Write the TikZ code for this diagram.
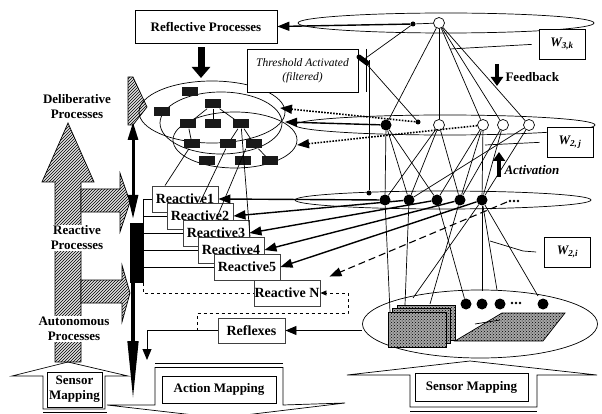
\documentclass[tikz,border=0pt]{standalone}
\usepackage{fontspec}
\setmainfont{Liberation Serif}
\usetikzlibrary{arrows.meta,patterns,shapes.geometric}

\tikzset{
  link/.style={line width=0.7pt},
  lab/.style={font=\fontsize{13}{15}\selectfont\bfseries, align=center},
  boxx/.style={draw, fill=white, line width=0.7pt, lab},
  reac/.style={boxx, draw=black!75, line width=0.9pt, minimum width=66pt, minimum height=26pt, inner sep=0.5pt,
    font=\fontsize{14}{15}\selectfont\bfseries},
  wbox/.style={draw, fill=white, line width=0.7pt, minimum width=46pt, minimum height=30pt,
    font=\fontsize{13}{14}\selectfont\bfseries\itshape},
  bnode/.style={circle, fill=black, minimum size=11pt, inner sep=0pt},
  wnode/.style={circle, draw, fill=white, minimum size=11pt, inner sep=0pt, line width=0.7pt},
  sdot/.style={circle, fill=black, minimum size=5pt, inner sep=0pt},
  tnode/.style={fill=black!90, minimum width=16pt, minimum height=9pt, inner sep=0pt},
  hatch/.style={draw, line width=0.7pt, preaction={fill=black!12}, pattern=north east lines},
  speckle/.style={draw, line width=0.7pt, preaction={fill=black!35}, pattern=crosshatch dots},
  thickarr/.style={line width=1.4pt, -{Triangle[length=12pt,width=9pt]}},
  thinarr/.style={line width=0.9pt, -{Triangle[length=11pt,width=9pt]}},
  dotarr/.style={line width=1.6pt, dash pattern=on 1.6pt off 1.4pt, -{Triangle[length=12pt,width=9pt]}},
  blockarr/.style={line width=4pt, -{Triangle[length=9pt,width=12pt]}},
}

\begin{document}
\begin{tikzpicture}[x=1pt,y=-1pt]
\useasboundingbox (0,0) rectangle (602,414);

% process levels on the left
\draw[hatch] (42,182) -- (68,123) -- (94,182) -- (81,182) -- (81,362) -- (55,362) -- (55,182) -- cycle;
\draw[hatch] (81,189) -- (120,189) -- (120,173) -- (130,202) -- (120,232) -- (120,212) -- (81,212) -- cycle;
\draw[hatch] (81,280) -- (122,280) -- (122,265) -- (130,293) -- (122,322) -- (122,303) -- (81,303) -- cycle;
\draw[hatch] (128,77) -- (133,77) -- (147,107) -- (133,125) -- (128,125) -- cycle;
\node[lab, fill=white, inner sep=1pt] (delib) at (77,107) {Deliberative\\Processes};
\node[lab, fill=white, inner sep=1pt] (reactlab) at (77,238) {Reactive\\Processes};
\node[lab, fill=white, inner sep=1pt] (autolab) at (74,329) {Autonomous\\Processes};

% mapping blocks at the bottom
\draw[link] (12,376) -- (68,362) -- (128,376) -- (105,376) -- (105,409) -- (43,409) -- (43,376) -- cycle;
\draw[link] (43,412.5) -- (107,412.5);
\node[boxx, minimum width=55pt, minimum height=35pt, inner sep=0pt] (smleft) at (74.5,389.5) {Sensor\\Mapping};
\draw[link] (155,367) -- (155,405) -- (107,405) -- (220,418) -- (345,403) -- (283,405) -- (283,367);
\draw[line width=1.2pt] (155,363.5) -- (283,363.5);
\draw[line width=1.2pt] (155,367.5) -- (283,367.5);
\node[boxx, minimum width=114pt, minimum height=27pt] (am) at (219,389.5) {Action Mapping};
\draw[link] (410,407) -- (410,375) -- (347,375) -- (470,361) -- (597,375) -- (537,375) -- (537,407) -- cycle;
\draw[link] (410,411) -- (537,411);
\node[boxx, minimum width=113pt, minimum height=28pt] (smright) at (471.5,387) {Sensor Mapping};

% deliberative plans
\draw[link] (212,112) ellipse [x radius=73, y radius=31];
\draw[link] (235,140) ellipse [x radius=62, y radius=28];
\draw[link] (221,123) ellipse [x radius=61, y radius=31];
\foreach \n/\x/\y in {ta/190/92, tb/162/112, root/213/104, t21/188/124, t22/213/124, t23/241/124,
                      t31/192/144, t32/228/144, t33/254/144, t41/207/161, t42/243/161, t43/270/161}
  \node[tnode] (\n) at (\x,\y) {};
\foreach \a/\b in {root/t21, root/t22, root/t23, t21/t31, t23/t32, t23/t33, t33/t43}
  \draw[link] (\a) -- (\b);

% network layers
\draw[link] (446,23) ellipse [x radius=148, y radius=10];
\draw[link] (445,125) ellipse [x radius=150, y radius=10];
\draw[link] (443,200) ellipse [x radius=148, y radius=9];
\node[ellipse, draw, line width=0.7pt, minimum width=235pt, minimum height=68pt] (sens) at (480,324) {};

% sensor contents
\foreach \d/\e in {9/7, 4.5/3.5, 0/0}
  \draw[speckle] (388+\d,312-\e) rectangle ++(58,35);
\draw[speckle] (455,341) -- (502,313) -- (565,313) -- (543,341) -- cycle;
\draw[link] (475,324) -- (500,320);
\foreach \n/\x in {sa/466, sb/482, sc/500, se/543}
  \node[bnode] (\n) at (\x,304) {};
\foreach \x in {512,516,520}
  \fill (\x,303) circle (1.4);

% units
\node[wnode] (tk) at (439,23) {};
\node[sdot] (dk) at (413,24) {};
\node[bnode] (b0) at (386,125) {};
\node[sdot] (s0) at (418,122) {};
\foreach \n/\x in {w1/439, w2/483, w3/503, w4/529}
  \node[wnode] (\n) at (\x,125) {};
\node[sdot] (sr) at (369,193) {};
\foreach \n/\x in {r1/385, r2/409, r3/437, r4/460, r5/482}
  \node[bnode] (\n) at (\x,200) {};
\foreach \x in {510,514,518}
  \fill (\x,201) circle (1.4);
\coordinate (rdots) at (507,202);

% boxes
\node[boxx, minimum width=142pt, minimum height=33pt] (rp) at (206,26.5) {Reflective Processes};
\node[draw, fill=white, line width=0.7pt, minimum width=111pt, minimum height=43pt, align=center,
  font=\fontsize{11.5}{14}\selectfont\itshape] (thr) at (302.5,70.5) {Threshold Activated\\(filtered)};
\node[wbox] (wk) at (562,44) {W\textsubscript{3,k}};
\node[wbox] (wj) at (570,142) {W\textsubscript{2,\,j}};
\node[wbox] (wi) at (567.5,252) {W\textsubscript{2,i}};
\foreach \i/\x/\y in {1/185/199, 2/200/216, 3/216/233, 4/231/250, 5/247/267}
  \node[reac] (re\i) at (\x,\y) {Reactive\i};
\node[reac] (rn) at (287,293) {Reactive N};
\node[reac, minimum width=67pt, minimum height=25pt] (rfx) at (251.5,330.5) {Reflexes};

% bus on the left of the reactive stack
\node[fill=black, minimum width=14pt, minimum height=60pt, inner sep=0pt] (bar) at (137,253) {};
\coordinate (rail) at (143,199);
\draw[link] (rail) -- (rail |- bar.north);
\foreach \i in {1,...,5}
  \draw[link] (rail |- re\i.west) -- (re\i.west);
\coordinate (barse) at (143,283);
\draw[link, dashed] (barse) |- (rn.west);
\coordinate (da1) at (133,122);
\coordinate (da2) at (133,219);
\draw[line width=3pt, {Triangle[length=18pt,width=10pt]}-{Triangle[length=24pt,width=10pt]}] (da1) -- (da2);
\coordinate (spk) at (133,403);
\draw[line width=4.5pt, -{Triangle[length=62pt,width=10pt]}] (spk |- bar.south) -- (spk);
\coordinate (rpd) at (201,78);
\draw[line width=7pt, -{Triangle[length=11pt,width=18pt]}, shorten <=4pt] (rp.south -| rpd) -- (rpd);

% reflexes
\draw[thinarr] (sens.west |- rfx.east) -- (rfx.east);
\coordinate (rfxdown) at (147,360);
\draw[thinarr] (rfx.west) -| (rfxdown);
\coordinate (loopst) at (197,330.5);
\draw[link, dashed, -{Triangle[length=6pt,width=5pt]}] (loopst) |- (348,313) |- (rn.east);

% reflective layer links
\coordinate (blob) at (363,60);
\draw[line width=5pt, line cap=round] (359,57) -- (367,63);
\draw[link] (tk) -- (dk);
\draw[thickarr] (dk) -- (rp.east);
\draw[link] (dk) -- (blob);
\draw[link] (blob) -- (s0);
\draw[link] (sr) -- (sr |- blob);
\draw[link] (366,49) -- (366,92);
\foreach \n in {b0,w1,w2,w3,w4}
  \draw[link] (tk) -- (\n);

% deliberative feedback
\coordinate (deltip) at (285,122);
\coordinate (dotipa) at (280,108);
\coordinate (dotipb) at (297,145);
\draw[thickarr] (b0) -- (deltip);
\draw[dotarr] (s0) -- (dotipa);
\draw[dotarr] (w2) -- (dotipb);

% middle to reactive layer
\foreach \a/\b in {b0/r1, b0/r2, b0/r3, w1/r1, w1/r2, w1/r4, w2/r3, w2/r4, w2/r5, w3/r4, w3/r5, w4/r2, w4/r5}
  \draw[link] (\a) -- (\b);
\foreach \i in {1,...,5}
  \draw[thickarr] (r\i) -- (re\i.east);
\draw[line width=1.1pt, dash pattern=on 7pt off 4pt, -{Triangle[length=12pt,width=9pt]}] (rdots) -- ([xshift=9pt,yshift=3pt]rn.north east);

% reactive to plans
\draw[link] ([xshift=-20pt]re1.north) -- (t31);
\draw[link] (re2.north) -- (t32);
\draw[link] (re3.north) -- (t33.south west);
\draw[link] ([xshift=19pt]re4.north) -- (t23);

% reactive to sensors
\coordinate (e1) at (390,312);
\coordinate (e2) at (405,305);
\coordinate (e3) at (430,304);
\coordinate (e4) at (413,298);
\coordinate (e5) at (482,291);
\coordinate (e6) at (497,290);
\coordinate (e7) at (538,296);
\draw[link] (r1) -- (e1);
\draw[link] (r2) -- (e2);
\draw[link] (r3) -- (sa);
\draw[link] (r4) -- (e3);
\foreach \p in {e4,e5,e6,e7}
  \draw[link] (r5) -- (\p);

% weight labels
\coordinate (kpt) at (450,49);
\draw[link, shorten <=7pt] (wk.west) -- (kpt);
\coordinate (jpt) at (485,145);
\draw[link, shorten <=7pt] (wj.west) -- (jpt);
\coordinate (ipt) at (490,241);
\draw[link] ([xshift=-8pt]wi.west) -- (523,251) -- (ipt);

% feedback and activation
\coordinate (fba) at (497,64);
\coordinate (fbb) at (497,86);
\draw[blockarr] (fba) -- (fbb);
\node[lab, anchor=west] (fbl) at (502,77) {Feedback};
\coordinate (aca) at (499,177);
\coordinate (acb) at (499,152);
\draw[blockarr] (aca) -- (acb);
\node[lab, anchor=west, font=\fontsize{13}{15}\selectfont\bfseries\itshape] (acl) at (501,170) {Activation};
\end{tikzpicture}
\end{document}
